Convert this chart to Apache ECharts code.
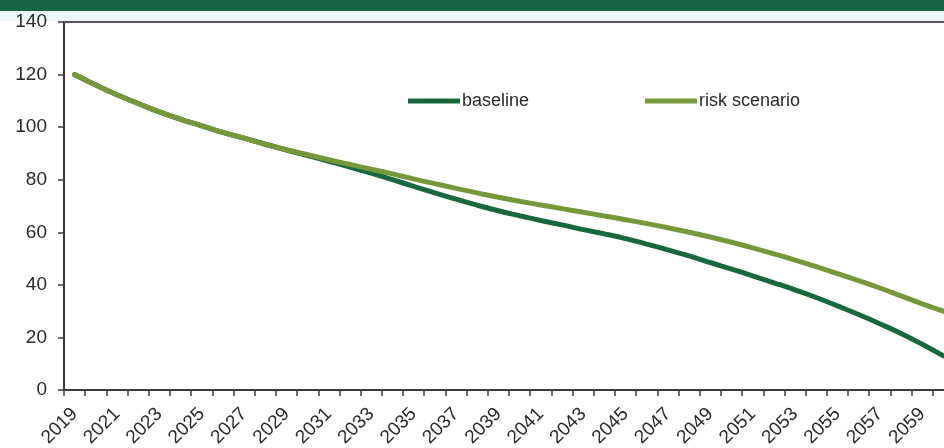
<!DOCTYPE html>
<html>
<head>
<meta charset="utf-8">
<script src="https://cdn.jsdelivr.net/npm/echarts@6/dist/echarts.min.js"></script>
<style>
html,body{margin:0;padding:0;background:#fff;overflow:hidden;}
#chart{width:955px;height:448px;}
</style>
</head>
<body>
<div id="chart"></div>
<script>
var years = ['2019','2020','2021','2022','2023','2024','2025','2026','2027','2028','2029','2030','2031','2032','2033','2034','2035','2036','2037','2038','2039','2040','2041','2042','2043','2044','2045','2046','2047','2048','2049','2050','2051','2052','2053','2054','2055','2056','2057','2058','2059','2060'];
var baseline = [120,116,112.3,109,105.8,103,100.5,98,95.8,93.5,91.3,89.2,87,84.8,82.5,80,77.5,75,72.6,70.3,68.2,66.3,64.5,62.8,61,59.4,57.6,55.5,53.3,51,48.5,46,43.4,40.8,38.1,35.2,32,28.7,25.2,21.5,17.4,13];
var riskScenario = [120,116,112.3,109,105.8,103,100.5,98,95.8,93.5,91.4,89.5,87.6,85.8,84,82.2,80.3,78.5,76.7,75,73.3,71.8,70.4,69,67.6,66.2,64.8,63.3,61.7,60,58.2,56.2,54.1,51.8,49.4,46.9,44.3,41.6,38.8,35.8,32.8,30];
var yTicks = [0,20,40,60,80,100,120,140];

var chart = echarts.init(document.getElementById('chart'), null, {renderer:'canvas'});
var font = '"Liberation Sans", Arial, sans-serif';
chart.setOption({
  animation: false,
  backgroundColor: '#ffffff',
  graphic: [
    {type:'rect', left:0, top:0, z:-10, shape:{width:955, height:11}, style:{fill:'#166544'}, silent:true},
    {type:'rect', left:0, top:11, z:-10, shape:{width:955, height:10}, style:{fill:'#eef5f6'}, silent:true}
  ],
  legend: {
    left: 408, top: 92, padding: 0,
    itemWidth: 52, itemHeight: 5, itemGap: 116,
    icon: 'rect',
    textStyle: {fontFamily: font, fontSize: 18, color: '#2a2a2a', padding:[0,0,0,-3]},
    data: ['baseline','risk scenario']
  },
  grid: {left: 64, right: 1, top: 22, bottom: 58, containLabel: false, outerBoundsMode: 'none'},
  xAxis: [{
    type: 'category',
    data: years,
    boundaryGap: true,
    axisLine: {show:true, lineStyle:{color:'#3a3a3a', width:2}},
    axisTick: {show:true, interval:0, length:6, lineStyle:{color:'#3a3a3a', width:1.5}},
    axisLabel: {interval:1, rotate:45, margin:21, fontFamily: font, fontSize:19, color:'#2a2a2a'},
    splitLine: {show:false}
  },{
    type: 'category',
    data: years,
    position: 'top',
    axisLine: {show:true, lineStyle:{color:'#555', width:2}},
    axisTick: {show:false},
    axisLabel: {show:false},
    splitLine: {show:false}
  }],
  yAxis: {
    type: 'value',
    min: yTicks[0], max: yTicks[yTicks.length-1], interval: 20,
    axisLine: {show:true, lineStyle:{color:'#3a3a3a', width:2}},
    axisTick: {show:true, length:6, lineStyle:{color:'#3a3a3a', width:1.5}},
    axisLabel: {margin:17, fontFamily: font, fontSize:19, color:'#2a2a2a'},
    splitLine: {show:false}
  },
  series: [{
    name: 'baseline', type: 'line', data: baseline, smooth: true, symbol: 'none',
    lineStyle: {color:'#17673f', width:5, cap:'round'}, itemStyle:{color:'#17673f'}, z:3
  },{
    name: 'risk scenario', type: 'line', data: riskScenario, smooth: true, symbol: 'none',
    lineStyle: {color:'#76983a', width:5, cap:'round'}, itemStyle:{color:'#76983a'}, z:4
  }]
});
</script>
</body>
</html>
